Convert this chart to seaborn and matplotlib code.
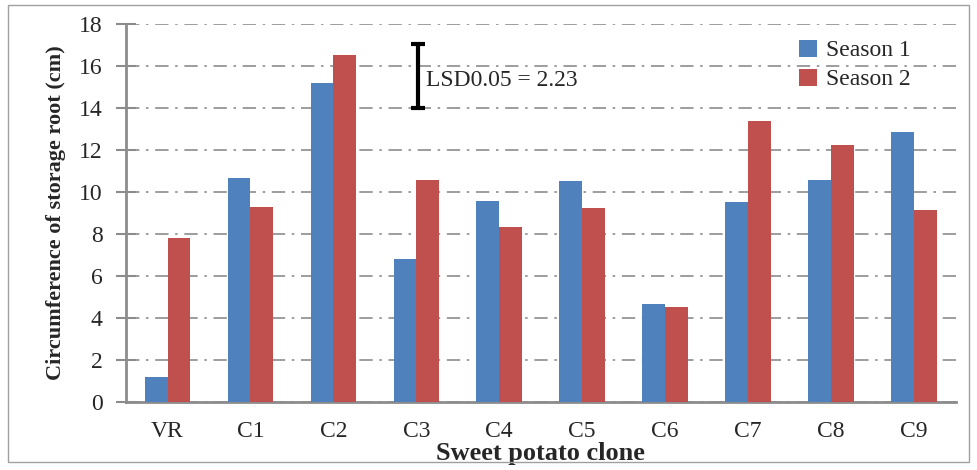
import matplotlib
matplotlib.use('Agg')
from matplotlib import pyplot as plt
from matplotlib.patches import Rectangle
import pandas as pd
import seaborn as sns

clones = ['VR', 'C1', 'C2', 'C3', 'C4', 'C5', 'C6', 'C7', 'C8', 'C9']
season1 = [1.2, 10.65, 15.2, 6.8, 9.55, 10.5, 4.65, 9.5, 10.55, 12.85]
season2 = [7.8, 9.3, 16.5, 10.55, 8.35, 9.25, 4.5, 13.4, 12.25, 9.15]
lsd_value = 2.23

df = pd.DataFrame({
    'clone': clones * 2,
    'value': season1 + season2,
    'season': ['Season 1'] * len(clones) + ['Season 2'] * len(clones),
})

sns.set_style('white')
plt.rcParams['font.family'] = ['Liberation Serif', 'DejaVu Serif']

fig = plt.figure(figsize=(9.77, 4.70), dpi=100)
ax = fig.add_axes([0.129, 0.145, 0.849, 0.804])

sns.barplot(data=df, x='clone', y='value', hue='season',
            palette=['#4F81BD', '#C0504D'], width=0.55, saturation=1,
            edgecolor='none', ax=ax, zorder=3)

ax.set_ylim(0, 18)
ax.set_yticks(range(0, 19, 2))
ax.set_xlim(-0.5, len(clones) - 0.5)
ax.yaxis.grid(True, color='#8c8c8c', linestyle=(0, (8, 4, 1.5, 4)), linewidth=1.2, zorder=0)
ax.set_axisbelow(True)

for side in ['top', 'right']:
    ax.spines[side].set_visible(False)
for side in ['left', 'bottom']:
    ax.spines[side].set_color('#8c8c8c')
    ax.spines[side].set_linewidth(2)

ax.tick_params(axis='y', left=True, direction='inout', length=14, width=1.5,
               color='#8c8c8c', labelsize=17, pad=10)
ax.tick_params(axis='x', bottom=False, labelsize=17, pad=10)

ax.set_xlabel('Sweet potato clone', fontsize=19, fontweight='bold', labelpad=0)
ax.set_ylabel('Circumference of storage root (cm)', fontsize=16, fontweight='bold', labelpad=9)

# LSD bar
ax.errorbar([3.02], [14 + 3.05 / 2], yerr=[3.05 / 2], color='black',
            capsize=5, elinewidth=3, capthick=3, zorder=5)
ax.text(3.12, 15.3, f'LSD0.05 = {lsd_value}', fontsize=17, va='center', ha='left')

leg = ax.legend(loc='upper right', bbox_to_anchor=(0.972, 1.015), frameon=False,
                fontsize=17, handlelength=0.75, handleheight=0.75, handletextpad=0.4,
                labelspacing=0.3)

fig.patches.append(Rectangle((0.008, 0.017), 0.984, 0.972, transform=fig.transFigure,
                             fill=False, edgecolor='#a0a0a0', linewidth=1))

fig.savefig('out.png', dpi=100)
